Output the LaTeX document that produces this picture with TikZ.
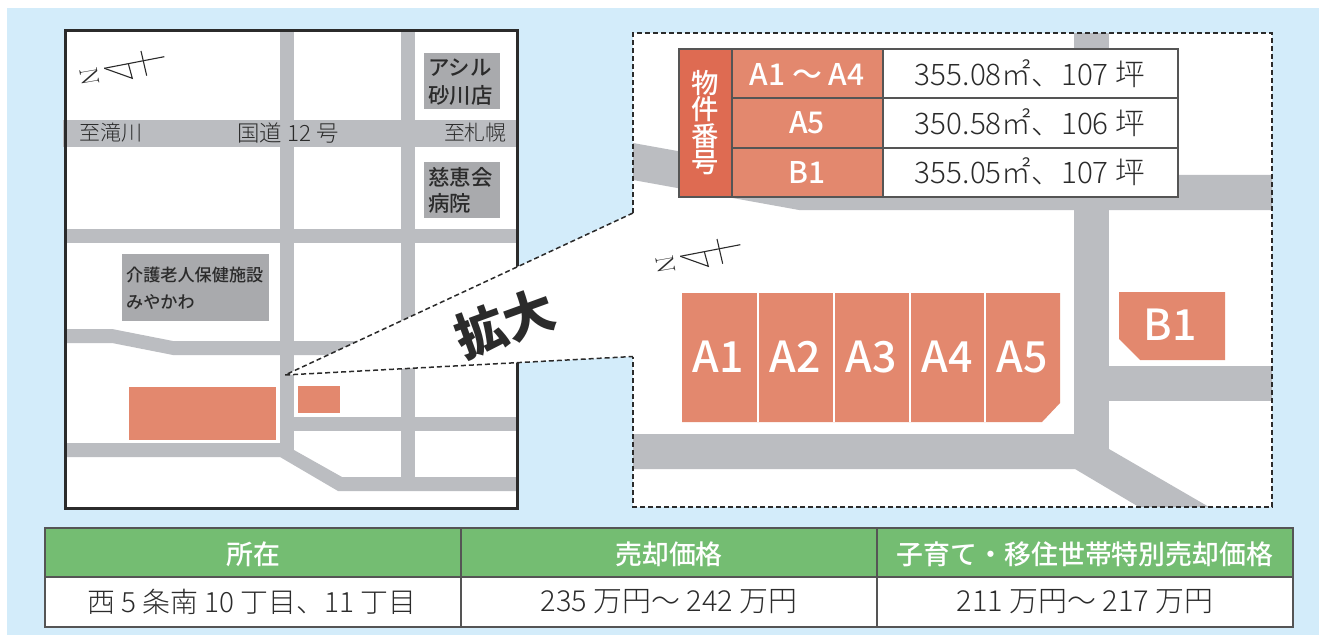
\documentclass[tikz,border=0pt]{standalone}
\usepackage{fontspec}
\IfFontExistsTF{Noto Sans CJK JP Light}{\newfontfamily\jpl{Noto Sans CJK JP Light}}{\newfontfamily\jpl{Noto Sans CJK JP}}
\IfFontExistsTF{Noto Sans CJK JP Medium}{\newfontfamily\jpr{Noto Sans CJK JP Medium}}{\newfontfamily\jpr{Noto Sans CJK JP}}
\IfFontExistsTF{Noto Sans CJK JP Black}{\newfontfamily\jpb{Noto Sans CJK JP Black}}{\newfontfamily\jpb{Noto Sans CJK JP Bold}}
\definecolor{sky}{HTML}{D3ECFA}
\definecolor{road}{HTML}{BBBDC1}
\definecolor{lot}{HTML}{E3886E}
\definecolor{lotdark}{HTML}{DE6B52}
\definecolor{bldg}{HTML}{A9AAAD}
\definecolor{ink}{HTML}{2B2B2B}
\definecolor{rule}{HTML}{555555}
\definecolor{hdr}{HTML}{74BD72}
\tikzset{
 x=1bp,y=-1bp,
 roadfill/.style={fill=road,draw=none},
 lotfill/.style={fill=lot,draw=none},
 txt/.style={inner sep=0pt,text=ink,font=\jpl\fontsize{#1}{#1}\selectfont},
 wtxt/.style={inner sep=0pt,text=white,font=\jpr\fontsize{#1}{#1}\selectfont},
 btxt/.style={inner sep=0pt,text=ink,font=\jpr\fontsize{#1}{#1}\selectfont,align=left},
 gridline/.style={draw=rule,line width=1.3bp},
 zoomline/.style={draw=ink,line width=1.5bp,dash pattern=on 5bp off 3bp},
 northline/.style={draw=ink,line width=1.1bp},
}
\newcommand{\northmark}[2]{%
 \begin{scope}[shift={(#1,#2)}]
  \draw[northline] (104.3,68.3) -- (164.3,56.7);
  \draw[northline] (104.3,68.3) -- (132.3,78.3) -- (128.2,63.2);
  \draw[northline] (141,51) -- (146.7,75.7);
  \node[rotate=-80,inner sep=0pt,text=ink,font=\fontsize{26}{26}\selectfont] at (90,77) {N};
 \end{scope}}
\begin{document}
\begin{tikzpicture}
\useasboundingbox (0,0) rectangle (1319,635);
\fill[white] (0,0) rectangle (1319,635);
\fill[sky] (7,8) rectangle (1319,635);
% left map
\fill[white] (65,31) rectangle (517,508);
\begin{scope}
 \clip (63,31) rectangle (517,508);
 \fill[roadfill] (280,31) rectangle (294,457);
 \fill[roadfill] (401,31) rectangle (415,484);
 \fill[roadfill] (63,120) rectangle (517,146.7);
 \fill[roadfill] (65,229) rectangle (517,243);
 \fill[roadfill] (65,329) -- (112,329) -- (173,341) -- (415,341) -- (415,355) -- (173,355) -- (112,343) -- (65,343) -- cycle;
 \fill[roadfill] (294,417) rectangle (517,431);
 \fill[roadfill] (65,443) -- (280,443) -- (294,450) -- (342,477) -- (517,477) -- (517,491) -- (338,491) -- (280,457) -- (65,457) -- cycle;
\end{scope}
\draw[draw=ink,line width=3bp] (65,31) rectangle (517,508);
\fill[lotfill] (129,387) rectangle (276,440);
\fill[lotfill] (298,386) rectangle (340,413);
\fill[bldg] (424,53) rectangle (500,109);
\fill[bldg] (424,162) rectangle (500,218);
\fill[bldg] (122,254) rectangle (269,321);
\northmark{0}{0}
\node[txt=21,anchor=west] (t1) at (79,133) {至滝川};
\node[txt=22.5,anchor=center] (t2) at (288,133) {国道 12 号};
\node[txt=21,anchor=east] (t3) at (507,133) {至札幌};
\node[btxt=21.5,anchor=west] (t4) at (428,68) {アシル};
\node[btxt=21.5,anchor=west] (t5) at (428,95) {砂川店};
\node[btxt=21.5,anchor=west] (t6) at (428,177) {慈恵会};
\node[btxt=21.5,anchor=west] (t7) at (428,203) {病院};
\node[btxt=17.2,anchor=west] (t8) at (126,275) {介護老人保健施設};
\node[btxt=17.2,anchor=west] (t9) at (126,302) {みやかわ};
% wedge and zoom panel
\coordinate (apex) at (285,375);
\coordinate (wu) at (633,213);
\coordinate (wl) at (633,356.5);
\fill[white] (apex) -- (wu) -- (wl) -- cycle;
\fill[white] (633,33) rectangle (1272,507);
% right panel roads
\begin{scope}
 \clip (633,33) rectangle (1272,507);
 \fill[roadfill] (1074,33) rectangle (1109,449);
 \fill[roadfill] (633,143) -- (811,175) -- (1272,175) -- (1272,210) -- (799,210) -- (633,180) -- cycle;
 \fill[roadfill] (1109,366) rectangle (1272,401);
 \fill[roadfill] (633,434) -- (1074,434) -- (1109,449) -- (1209,507) -- (1139,507) -- (1075,469) -- (633,469) -- cycle;
\end{scope}
\draw[zoomline] (wu) -- (apex) -- (wl);
\draw[zoomline] (wu) -- (633,33) -- (1272,33) -- (1272,507) -- (633,507) -- (wl);
\node[inner sep=0pt,rotate=20,text=ink,font=\jpb\fontsize{51}{51}\selectfont] (zoomword) at (504.5,323) {拡大};
% property table
\fill[lotdark] (679,49) rectangle (732,197);
\fill[lotfill] (732,49) rectangle (883,197);
\fill[white] (883,49) rectangle (1178,197);
\draw[gridline] (679,49) rectangle (1178,197);
\draw[gridline] (732,49) -- (732,197);
\draw[gridline] (883,49) -- (883,197);
\draw[gridline] (732,98) -- (1178,98);
\draw[gridline] (732,148) -- (1178,148);
\node[wtxt=27.5] (h1) at (705,83) {物};
\node[wtxt=27.5] (h2) at (705,109.5) {件};
\node[wtxt=27.5] (h3) at (705,136) {番};
\node[wtxt=27.5] (h4) at (705,163) {号};
\node[wtxt=30] (r1) at (807,74) {A1 ～ A4};
\node[wtxt=30] (r2) at (807,123) {A5};
\node[wtxt=30] (r3) at (807,172) {B1};
\node[txt=29.8] (v1) at (1030,74) {355.08㎡、107 坪};
\node[txt=29.8] (v2) at (1030,123) {350.58㎡、106 坪};
\node[txt=29.8] (v3) at (1030,172) {355.05㎡、107 坪};
\northmark{576}{188}
% lots
\fill[lotfill] (682,293) -- (1060,293) -- (1060,403) -- (1042,422) -- (682,422) -- cycle;
\foreach \sx in {758,833.5,909.5,985} \draw[white,line width=2bp] (\sx,293) -- (\sx,422);
\fill[lotfill] (1119,292) -- (1225,292) -- (1225,360) -- (1140,360) -- (1119,339) -- cycle;
\node[wtxt=43] (a1) at (718,357) {A1};
\node[wtxt=43] (a2) at (795,357) {A2};
\node[wtxt=43] (a3) at (871,357) {A3};
\node[wtxt=43] (a4) at (947,357) {A4};
\node[wtxt=43] (a5) at (1022,357) {A5};
\node[wtxt=43] (b1) at (1170,325) {B1};
% bottom table
\fill[hdr] (45,528) rectangle (1293,577);
\fill[white] (45,577) rectangle (1293,627);
\draw[gridline] (45,528) rectangle (1293,627);
\draw[gridline] (45,577) -- (1293,577);
\draw[gridline] (461,528) -- (461,627);
\draw[gridline] (877,528) -- (877,627);
\node[wtxt=27] (c1) at (253,554) {所在};
\node[wtxt=27] (c2) at (669,554) {売却価格};
\node[wtxt=27] (c3) at (1085,554) {子育て・移住世帯特別売却価格};
\node[txt=28] (d1) at (252,602) {西 5 条南 10 丁目、11 丁目};
\node[txt=29] (d2) at (669,602) {235 万円～ 242 万円};
\node[txt=29] (d3) at (1085,602) {211 万円～ 217 万円};
\end{tikzpicture}
\end{document}
